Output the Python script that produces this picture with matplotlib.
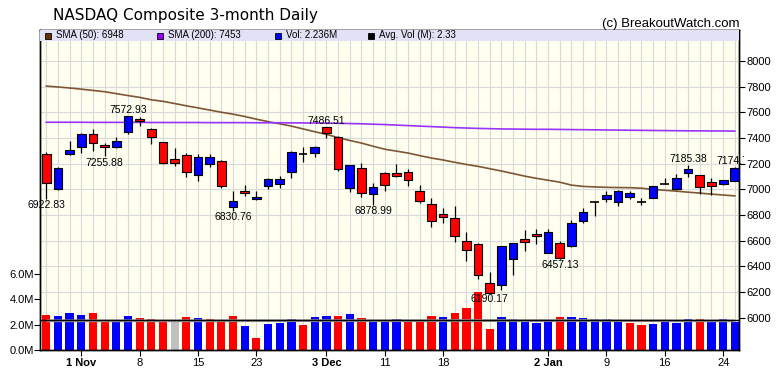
import matplotlib
matplotlib.use('Agg')
import matplotlib.pyplot as plt
from matplotlib.patches import Rectangle
from matplotlib.transforms import Bbox, TransformedBbox, blended_transform_factory
import numpy as np

plt.rcParams['font.family'] = ['Liberation Sans', 'DejaVu Sans']

# daily OHLC, 29 Oct .. 25 Jan (60 sessions)
opens = [7272, 7005, 7277, 7327, 7428, 7345, 7328, 7448, 7545, 7467,
         7366, 7233, 7264, 7113, 7196, 7220, 6864, 6986, 6920, 7025,
         7041, 7132, 7272, 7280, 7486, 7409, 7012, 7163, 6960, 7124,
         7124, 7132, 6986, 6882, 6804, 6773, 6599, 6571, 6271, 6253,
         6456, 6615, 6651, 6500, 6578, 6560, 6755, 6898, 6921, 6903,
         6942, 6903, 6929, 7038, 7002, 7129, 7111, 7059, 7038, 7066]
highs = [7290, 7170, 7375, 7436, 7467, 7358, 7406, 7573, 7565, 7479,
         7370, 7319, 7285, 7272, 7274, 7228, 6990, 7033, 6986, 7085,
         7103, 7298, 7327, 7337, 7487, 7412, 7188, 7207, 7046, 7136,
         7194, 7155, 7033, 6929, 6851, 6869, 6664, 6578, 6353, 6557,
         6580, 6682, 6687, 6687, 6600, 6760, 6856, 6908, 6988, 6994,
         6988, 6929, 7025, 7085, 7118, 7185, 7111, 7085, 7072, 7175]
lows = [6923, 6996, 7270, 7285, 7300, 7256, 7318, 7430, 7495, 7350,
        7194, 7181, 7097, 7066, 7171, 7007, 6831, 6947, 6918, 6999,
        7007, 7090, 7215, 7253, 7397, 7142, 6981, 6942, 6879, 6986,
        7093, 7027, 6895, 6708, 6734, 6586, 6443, 6298, 6190, 6214,
        6331, 6521, 6573, 6500, 6457, 6552, 6739, 6793, 6898, 6871,
        6921, 6877, 6929, 7038, 6994, 7093, 6963, 6955, 7033, 7066]
closes = [7050, 7162, 7306, 7434, 7357, 7329, 7376, 7571, 7531, 7407,
          7201, 7201, 7138, 7255, 7249, 7028, 6909, 6972, 6939, 7081,
          7083, 7292, 7272, 7331, 7442, 7158, 7188, 6969, 7020, 7031,
          7103, 7072, 6910, 6754, 6784, 6637, 6528, 6333, 6193, 6554,
          6579, 6585, 6635, 6664, 6463, 6734, 6821, 6898, 6955, 6986,
          6973, 6903, 7025, 7038, 7085, 7155, 7021, 7026, 7072, 7163]
prior_close = 7167

volume = [2.72, 2.65, 2.90, 2.72, 2.90, 2.20, 2.28, 2.65, 2.52, 2.46,
          2.28, 2.33, 2.57, 2.52, 2.46, 2.36, 2.65, 1.87, 0.93, 2.02,
          2.12, 2.44, 1.95, 2.57, 2.65, 2.65, 2.80, 2.52, 2.33, 2.28,
          2.46, 2.20, 2.20, 2.65, 2.57, 2.90, 3.27, 4.54, 1.63, 2.57,
          2.46, 2.20, 2.12, 2.28, 2.57, 2.57, 2.49, 2.41, 2.41, 2.20,
          2.12, 1.95, 2.05, 2.20, 2.12, 2.41, 2.41, 2.28, 2.41, 2.236]
vol_sma = [2.30, 2.30, 2.30, 2.30, 2.30, 2.30, 2.30, 2.30, 2.30, 2.30,
           2.30, 2.30, 2.30, 2.30, 2.30, 2.31, 2.31, 2.31, 2.31, 2.31,
           2.31, 2.31, 2.31, 2.31, 2.31, 2.31, 2.31, 2.31, 2.31, 2.31,
           2.31, 2.31, 2.31, 2.31, 2.31, 2.32, 2.32, 2.32, 2.32, 2.32,
           2.32, 2.32, 2.32, 2.32, 2.32, 2.32, 2.32, 2.32, 2.32, 2.31,
           2.31, 2.31, 2.31, 2.31, 2.30, 2.30, 2.30, 2.30, 2.30, 2.30]
avg_vol = 2.33

sma50 = [7804, 7797, 7789, 7780, 7770, 7760, 7745, 7730, 7716, 7697,
         7685, 7668, 7650, 7634, 7617, 7600, 7585, 7567, 7546, 7527,
         7510, 7492, 7470, 7448, 7428, 7402, 7380, 7360, 7335, 7312,
         7297, 7282, 7262, 7243, 7228, 7210, 7193, 7178, 7160, 7142,
         7122, 7102, 7085, 7070, 7055, 7032, 7022, 7018, 7015, 7013,
         7012, 7008, 6998, 6992, 6985, 6977, 6970, 6962, 6955, 6948]
sma200 = [7522, 7522, 7522, 7522, 7521, 7521, 7521, 7521, 7521, 7520,
          7520, 7520, 7520, 7520, 7519, 7519, 7519, 7519, 7518, 7518,
          7518, 7517, 7517, 7516, 7515, 7514, 7512, 7510, 7507, 7504,
          7500, 7496, 7492, 7488, 7484, 7480, 7477, 7474, 7472, 7470,
          7469, 7468, 7467, 7467, 7466, 7465, 7464, 7463, 7462, 7461,
          7460, 7459, 7458, 7457, 7456, 7455, 7455, 7454, 7454, 7453]

# swing high / low labels: (bar, value, text, above?)
marks = [(0, 6922.83, '6922.83', False), (5, 7255.88, '7255.88', False),
         (7, 7572.93, '7572.93', True), (16, 6830.76, '6830.76', False),
         (24, 7486.51, '7486.51', True), (28, 6878.99, '6878.99', False),
         (38, 6190.17, '6190.17', False), (44, 6457.13, '6457.13', False),
         (55, 7185.38, '7185.38', True), (59, 7174.74, '7174.74', True)]

tick_idx = [3, 8, 13, 18, 24, 29, 34, 43, 48, 53, 58]
tick_lbl = ['1 Nov', '8', '15', '23', '3 Dec', '11', '18', '2 Jan', '9', '16', '24']

W, H = 780, 376
fig = plt.figure(figsize=(W / 100, H / 100), dpi=100)
fig.patch.set_facecolor('white')


def fx(x):
    return x / W


def fy(y):
    return 1 - y / H


axv = fig.add_axes([fx(40), fy(350), fx(739) - fx(40), fy(30) - fy(350)])
ax = axv.twinx()
axv.set_facecolor('#fffff0')

n = len(closes)
x = np.arange(n)
axv.set_xlim(-0.54, 59.36)
axv.set_ylim(0, 320 / 12.7)
ax.set_ylim(5747, 8241)

grid_c = '#d9d9d9'
for i in x:
    axv.axvline(i, color=grid_c, lw=0.8, zorder=0)
tr = blended_transform_factory(axv.transAxes, ax.transData)
for p in range(6200, 8001, 200):
    axv.plot([0, 1], [p, p], transform=tr, color=grid_c, lw=0.8, zorder=0)

# volume bars, coloured by change from previous close
prev = [prior_close] + closes[:-1]
vcol = []
for c, pc in zip(closes, prev):
    if c > pc:
        vcol.append('#0000ff')
    elif c < pc:
        vcol.append('#ff0000')
    else:
        vcol.append('#c0c0c0')
axv.bar(x, volume, width=0.71, color=vcol, zorder=2)
axv.plot(x, vol_sma, color='#999999', lw=2.0, zorder=2.5, solid_capstyle='butt')
axv.axhline(avg_vol, color='black', lw=1.0, zorder=3)

# moving averages
ax.plot(x, sma50, color='#7d5634', lw=1.2, zorder=2)
ax.plot(x, sma200, color='#9933ff', lw=1.2, zorder=2)

# candles
bw = 0.75
ax.vlines(x, lows, highs, color='black', lw=0.9, zorder=3)
for i in range(n):
    o, c = opens[i], closes[i]
    if o == c:
        ax.hlines(c, i - bw / 2, i + bw / 2, color='black', lw=1.2, zorder=4)
        continue
    col = '#0000ff' if c > o else '#ff0000'
    ax.add_patch(Rectangle((i - bw / 2, min(o, c)), bw, abs(c - o),
                           facecolor=col, edgecolor='black', lw=0.8, zorder=4))

clip = TransformedBbox(Bbox([[0, 0], [fx(744), 1]]), fig.transFigure)
for i, v, t, up in marks:
    a = ax.annotate(t, (i, v), xytext=(0, 0.8 if up else -0.8),
                    textcoords='offset points', ha='center',
                    va='bottom' if up else 'top', fontsize=7.5, zorder=6,
                    annotation_clip=False)
    a.set_clip_box(clip)
    a.set_clip_on(True)

# legend band
ax.add_patch(Rectangle((0, 309 / 320), 1, 11 / 320, transform=ax.transAxes,
                       facecolor='#e2e2f6', edgecolor='none', zorder=5))
legend = [(45, '#663300', 'SMA (50): 6948'), (157, '#9900ff', 'SMA (200): 7453'),
          (275, '#0000ff', 'Vol: 2.236M'), (368, '#000000', 'Avg. Vol (M): 2.33')]
for lx, lc, lt in legend:
    fig.patches.append(Rectangle((fx(lx), fy(38.5)), 5.5 / W, 5.5 / H,
                                 transform=fig.transFigure, facecolor=lc,
                                 edgecolor='black', lw=0.6, zorder=7))
    fig.text(fx(lx + 11), fy(35.5), lt, fontsize=7, va='center', ha='left', zorder=7)

fig.text(fx(53), fy(20.3), 'NASDAQ Composite 3-month Daily', fontsize=11,
         family='DejaVu Sans', va='baseline', ha='left')
fig.text(fx(740), fy(27), '(c) BreakoutWatch.com', fontsize=9.5,
         va='baseline', ha='right')

# axes and ticks
ax.set_yticks(range(6000, 8001, 200))
ax.tick_params(axis='y', length=4, width=0.8, pad=1.5, labelsize=8, colors='black')
axv.set_yticks([0, 2, 4, 6])
axv.set_yticklabels(['0.0M', '2.0M', '4.0M', '6.0M'])
axv.tick_params(axis='y', length=4, width=0.8, pad=0.5, labelsize=8)
axv.set_xticks(tick_idx)
axv.set_xticklabels(tick_lbl)
axv.tick_params(axis='x', length=4, width=0.8, pad=1.5, labelsize=8)
for lab in axv.get_xticklabels():
    if ' ' in lab.get_text():
        lab.set_fontweight('bold')
for a in (ax, axv):
    for s in a.spines.values():
        s.set_color('black')
        s.set_linewidth(1.0)

fig.savefig('out.png', dpi=100, facecolor='white')
